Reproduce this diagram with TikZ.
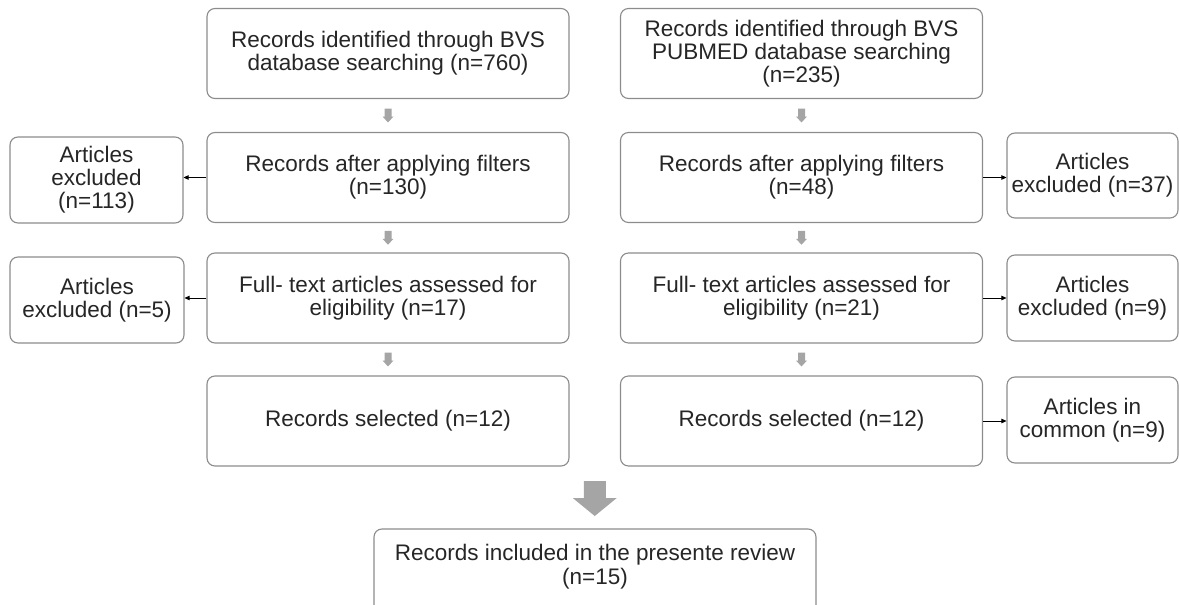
\documentclass[tikz,border=0pt]{standalone}
\usepackage{fontspec}
\setmainfont{Liberation Sans}
\usetikzlibrary{arrows.meta,calc}
\definecolor{boxline}{RGB}{140,140,140}
\definecolor{txt}{RGB}{38,38,38}
\definecolor{blockgray}{RGB}{165,165,165}
\begin{document}
\begin{tikzpicture}[x=1pt,y=-1pt,
  box/.style={draw=boxline,line width=1.1pt,rounded corners=8pt,fill=white,
    align=center,text=txt,inner sep=0pt,
    font=\fontsize{22.5}{23}\selectfont},
  mainbox/.style={box,minimum width=362pt,minimum height=90pt},
  sidebox/.style={box,minimum width=172pt,minimum height=86pt},
  exarrow/.style={draw=black,line width=0.7pt,-{Triangle[length=5pt,width=4.5pt]}}
]
\useasboundingbox (0,0) rectangle (1179,605);
\clip (0,0) rectangle (1179,605);
% left column
\node[mainbox] (b1) at (388,53.5) {Records identified through BVS\\database searching (n=760)};
\node[mainbox] (b2) at (388,177.5) {Records after applying filters\\(n=130)};
\node[mainbox] (b3) at (388,298) {Full- text articles assessed for\\eligibility (n=17)};
\node[mainbox] (b4) at (388,421) {Records selected (n=12)};
% right column
\node[mainbox] (c1) at (801.5,53.5) {Records identified through BVS\\PUBMED database searching\\(n=235)};
\node[mainbox] (c2) at (801.5,177.5) {Records after applying filters\\(n=48)};
\node[mainbox] (c3) at (801.5,298) {Full- text articles assessed for\\eligibility (n=21)};
\node[mainbox] (c4) at (801.5,421) {Records selected (n=12)};
% side boxes
\node[sidebox,minimum width=173pt] (l2) at (96.5,180) {Articles\\excluded\\(n=113)};
\node[sidebox,minimum width=174pt] (l3) at (97,300) {Articles\\excluded (n=5)};
\node[sidebox,minimum width=171pt,minimum height=85pt] (r2) at (1092.5,175.5) {Articles\\excluded (n=37)};
\node[sidebox,minimum width=171pt] (r3) at (1092.5,298) {Articles\\excluded (n=9)};
\node[sidebox,minimum width=171pt] (r4) at (1092.5,420) {Articles in\\common (n=9)};
% final box (cut off at the bottom)
\draw[draw=boxline,line width=1.1pt,rounded corners=8pt] (374,529) rectangle (816,660);
\node[align=center,text=txt,inner sep=0pt,font=\fontsize{22.5}{24}\selectfont] (fin) at (595,567) {Records included in the presente review\\(n=15)};
% side connectors
\draw[exarrow] (b2.west) -- (b2.west -| l2.east);
\draw[exarrow] (b3.west) -- (b3.west -| l3.east);
\draw[exarrow] (c2.east) -- (c2.east -| r2.west);
\draw[exarrow] (c3.east) -- (c3.east -| r3.west);
\draw[exarrow] (c4.east) -- (c4.east -| r4.west);
% small block arrows
\newcommand{\smallblock}[2]{%
  \path (#1.south) -- (#2.north) coordinate[midway] (m);
  \fill[blockgray] ($(m)+(-3.5,-7)$) -- ($(m)+(3.5,-7)$) -- ($(m)+(3.5,1)$) -- ($(m)+(5.5,1)$)
    -- ($(m)+(0,7)$) -- ($(m)+(-5.5,1)$) -- ($(m)+(-3.5,1)$) -- cycle;}
\smallblock{b1}{b2}
\smallblock{b2}{b3}
\smallblock{b3}{b4}
\smallblock{c1}{c2}
\smallblock{c2}{c3}
\smallblock{c3}{c4}
% big block arrow
\coordinate (bm) at ($(b4.south east)!0.5!(c4.south west)$);
\coordinate (bc) at (bm |- 0,498.5);
\fill[blockgray] ($(bc)+(-11,-17.5)$) -- ($(bc)+(11,-17.5)$) -- ($(bc)+(11,-0.5)$) -- ($(bc)+(22,-0.5)$)
  -- ($(bc)+(0,17.5)$) -- ($(bc)+(-22,-0.5)$) -- ($(bc)+(-11,-0.5)$) -- cycle;
\end{tikzpicture}
\end{document}
